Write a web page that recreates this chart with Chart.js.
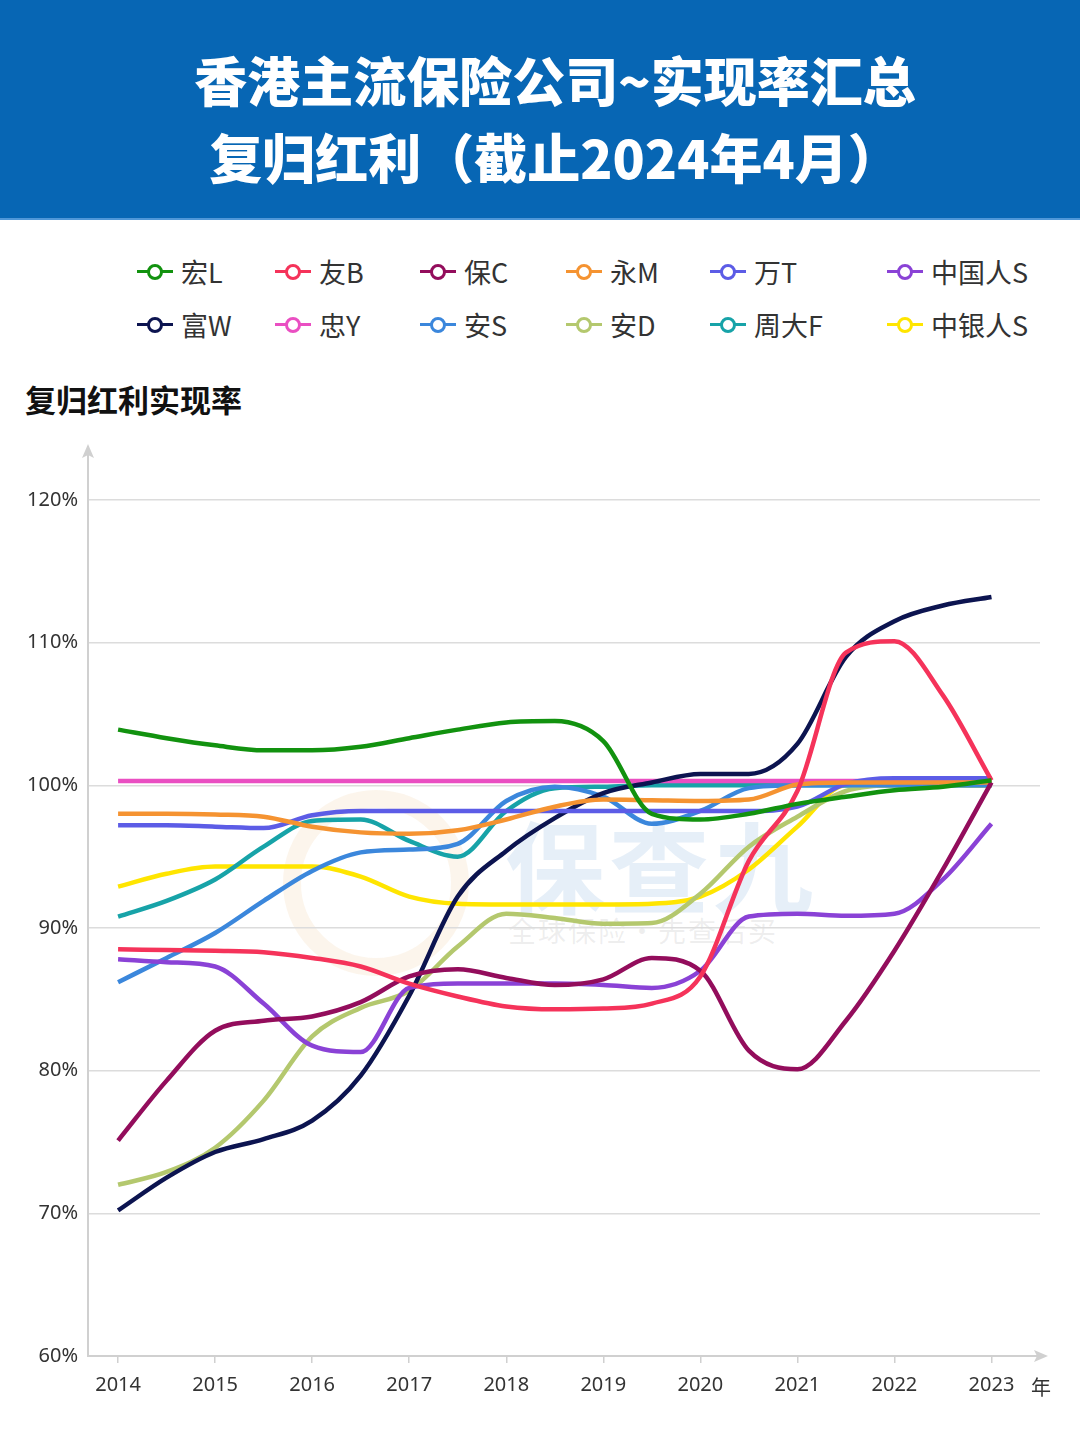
<!DOCTYPE html>
<html>
<head>
<meta charset="utf-8">
<script src="https://cdn.jsdelivr.net/npm/chart.js@4.4.1/dist/chart.umd.min.js"></script>
<style>
  body { margin: 0; width: 1080px; height: 1440px; background: #fff; position: relative; overflow: hidden;
         font-family: "Noto Sans CJK SC", "Noto Sans", sans-serif; }
  #banner { position: absolute; left: 0; top: 0; width: 1080px; height: 220px; background: #0766b4;
            border-bottom: 2px solid #4f97d8; box-sizing: border-box; }
  #banner div { position: absolute; left: 0; width: 1110px; text-align: center; color: #fff;
                font-weight: 900; font-size: 53px; line-height: 64px; }
  #legend .item { position: absolute; height: 30px; font-size: 27px; color: #333; line-height: 30px; white-space: nowrap; }
  #legend .mk { position: absolute; left: 0; top: 0; width: 36px; height: 30px; }
  #legend .mk .ln { position: absolute; left: 0; top: 13px; width: 36px; height: 3px; }
  #legend .mk .dot { position: absolute; left: 10px; top: 7px; width: 10px; height: 10px; border-radius: 50%;
                     background: #fff; border: 3px solid; }
  #legend .tx { position: absolute; left: 44px; top: 0; }
  #ytitle { position: absolute; left: 25px; top: 376px; font-size: 31px; font-weight: 700; color: #111; }
  #wm1 { position: absolute; left: 505px; top: 790px; font-size: 100px; font-weight: 700; color: rgba(60,130,200,0.13); letter-spacing: 4px; }
  #wm2 { position: absolute; left: 508px; top: 910px; font-size: 28px; color: rgba(120,120,120,0.13); letter-spacing: 2px; }
  #wm3 { position: absolute; left: 283px; top: 790px; width: 150px; height: 150px; border-radius: 50%;
         border: 18px solid rgba(240,200,150,0.18); }
  canvas { position: absolute; left: 0; top: 430px; }
</style>
</head>
<body>
<div id="banner">
  <div style="top:47px">香港主流保险公司~实现率汇总</div>
  <div style="top:124px">复归红利（截止2024年4月）</div>
</div>
<div id="legend"></div>
<div id="ytitle">复归红利实现率</div>
<div id="wm3"></div>
<div id="wm1">保查九</div>
<div id="wm2">全球保险·先查后买</div>
<canvas id="chart" width="1080" height="1000"></canvas>
<script>
// half-year sampling points, tick labels
const years = [2014, 2014.5, 2015, 2015.5, 2016, 2016.5, 2017, 2017.5, 2018, 2018.5,
               2019, 2019.5, 2020, 2020.5, 2021, 2021.5, 2022, 2022.5, 2023];
const yearTicks = [2014, 2015, 2016, 2017, 2018, 2019, 2020, 2021, 2022, 2023];
const percentTicks = [60, 70, 80, 90, 100, 110, 120];

const names = ['宏L', '友B', '保C', '永M', '万T', '中国人S', '富W', '忠Y', '安S', '安D', '周大F', '中银人S'];
const colors = ['#12920f', '#f5335a', '#930d5c', '#f59331', '#5c5ce6', '#8a42d6',
                '#0c1450', '#ea4fc2', '#3b87dc', '#b4c86e', '#17a3a8', '#ffe500'];

const hongL   = [103.9, 103.3, 102.8, 102.45, 102.45, 102.7, 103.3, 103.9, 104.4, 104.5, 103.1, 98.0, 97.6, 98.0, 98.7, 99.2, 99.65, 99.9, 100.35];
const youB    = [88.5, 88.45, 88.4, 88.3, 87.9, 87.3, 86.1, 85.2, 84.5, 84.3, 84.35, 84.7, 86.6, 94.7, 99.6, 109.3, 110.1, 106.3, 100.35];
const baoC    = [75.1, 79.3, 82.8, 83.5, 83.8, 84.8, 86.6, 87.1, 86.5, 86.0, 86.4, 87.9, 87.0, 81.4, 80.1, 83.5, 88.4, 94.1, 100.2];
const yongM   = [98.0, 98.0, 97.95, 97.8, 97.1, 96.7, 96.6, 96.85, 97.6, 98.5, 99.0, 98.95, 98.9, 99.0, 100.05, 100.2, 100.2, 100.2, 100.2];
const wanT    = [97.2, 97.2, 97.1, 97.0, 97.9, 98.2, 98.2, 98.2, 98.2, 98.2, 98.2, 98.2, 98.2, 98.2, 98.5, 100.1, 100.5, 100.5, 100.5];
const zgrS    = [87.8, 87.6, 87.3, 84.7, 81.75, 81.3, 85.8, 86.1, 86.1, 86.1, 86.0, 85.8, 87.0, 90.8, 91.0, 90.85, 91.0, 93.4, 97.3];
const fuW     = [70.2, 72.5, 74.3, 75.2, 76.5, 79.65, 85.25, 92.2, 95.4, 97.7, 99.45, 100.2, 100.8, 100.8, 102.9, 109.0, 111.5, 112.6, 113.2];
const zhongY  = [100.3, 100.3, 100.3, 100.3, 100.3, 100.3, 100.3, 100.3, 100.3, 100.3, 100.3, 100.3, 100.3, 100.3, 100.3, 100.3, 100.3, 100.3, 100.3];
const anS     = [86.2, 87.9, 89.65, 91.9, 94.0, 95.3, 95.5, 95.9, 98.9, 99.9, 99.2, 97.3, 98.2, 99.8, 100, 100, 100, 100, 100];
const anD     = [72.0, 72.9, 74.6, 77.9, 82.4, 84.4, 85.6, 88.7, 91.0, 90.7, 90.3, 90.35, 92.4, 95.7, 97.8, 99.6, 100, 100, 100];
const zhouDaF = [90.8, 91.9, 93.4, 95.7, 97.5, 97.6, 96.1, 95.0, 98.2, 99.8, 99.9, 100, 100, 100, 100, 100, 100, 100, 100];
const zyrS    = [92.9, 93.8, 94.3, 94.3, 94.3, 93.6, 92.2, 91.7, 91.65, 91.65, 91.65, 91.7, 92.2, 94.1, 97.1, 100, 100, 100, 100];

const series = [hongL, youB, baoC, yongM, wanT, zgrS, fuW, zhongY, anS, anD, zhouDaF, zyrS];

// legend grid (html)
const legendCols = [137, 275, 420, 566, 710, 887];
const legendRows = [257, 310];
const legend = document.getElementById('legend');
names.forEach((name, i) => {
    const item = document.createElement('div');
    item.className = 'item';
    item.style.left = legendCols[i % 6] + 'px';
    item.style.top = legendRows[Math.floor(i / 6)] + 'px';
    item.innerHTML = `<div class="mk"><div class="ln" style="background:${colors[i]}"></div>` +
        `<div class="dot" style="border-color:${colors[i]}"></div></div><div class="tx">${name}</div>`;
    legend.appendChild(item);
});

const axisColor = '#d0d0d0';

const axisArrows = {
    id: 'axisArrows',
    afterDraw(chart) {
        const ctx = chart.ctx;
        const a = chart.chartArea;
        ctx.save();
        ctx.fillStyle = axisColor;
        // y arrow
        ctx.beginPath();
        ctx.moveTo(a.left, a.top - 8);
        ctx.lineTo(a.left - 6, a.top + 6);
        ctx.lineTo(a.left, a.top + 3);
        ctx.lineTo(a.left + 6, a.top + 6);
        ctx.closePath();
        ctx.fill();
        // x arrow
        ctx.beginPath();
        ctx.moveTo(a.right + 8, a.bottom);
        ctx.lineTo(a.right - 6, a.bottom - 6);
        ctx.lineTo(a.right - 3, a.bottom);
        ctx.lineTo(a.right - 6, a.bottom + 6);
        ctx.closePath();
        ctx.fill();
        // unit label
        ctx.fillStyle = '#333';
        ctx.font = '20px "Noto Sans CJK SC", sans-serif';
        ctx.textAlign = 'center';
        ctx.textBaseline = 'middle';
        ctx.fillText('年', a.right + 1, a.bottom + 31);
        ctx.restore();
    }
};

new Chart(document.getElementById('chart').getContext('2d'), {
    type: 'line',
    data: {
        datasets: series.map((vals, i) => ({
            label: names[i],
            data: vals.map((v, j) => ({ x: years[j], y: v })),
            borderColor: colors[i],
            backgroundColor: colors[i],
            borderWidth: 4.5,
            pointRadius: 0,
            fill: false,
            cubicInterpolationMode: 'monotone'
        }))
    },
    options: {
        responsive: false,
        animation: false,
        layout: { padding: { top: 0, right: 40, left: 0, bottom: 0 } },
        plugins: { legend: { display: false }, tooltip: { enabled: false } },
        scales: {
            x: {
                type: 'linear',
                min: 2013.69,
                max: 2023.5,
                afterBuildTicks: s => { s.ticks = yearTicks.map(v => ({ value: v })); },
                afterFit: s => { s.height = 74; },
                grid: { display: true, drawOnChartArea: false, color: axisColor, tickLength: 7, lineWidth: 1.5 },
                border: { color: axisColor, width: 2 },
                ticks: { color: '#333', font: { size: 20, family: '"Noto Sans", sans-serif' }, padding: 10,
                         maxRotation: 0, callback: v => String(v) }
            },
            y: {
                min: 60,
                max: 123.36,
                afterBuildTicks: s => { s.ticks = percentTicks.map(v => ({ value: v })); },
                afterFit: s => { s.width = 88; },
                grid: { color: '#dcdcdc', lineWidth: 1.5, drawTicks: false },
                border: { color: axisColor, width: 2 },
                ticks: { color: '#333', font: { size: 20, family: '"Noto Sans", sans-serif' }, padding: 10,
                         callback: v => v + '%' }
            }
        }
    },
    plugins: [axisArrows]
});
</script>
</body>
</html>
